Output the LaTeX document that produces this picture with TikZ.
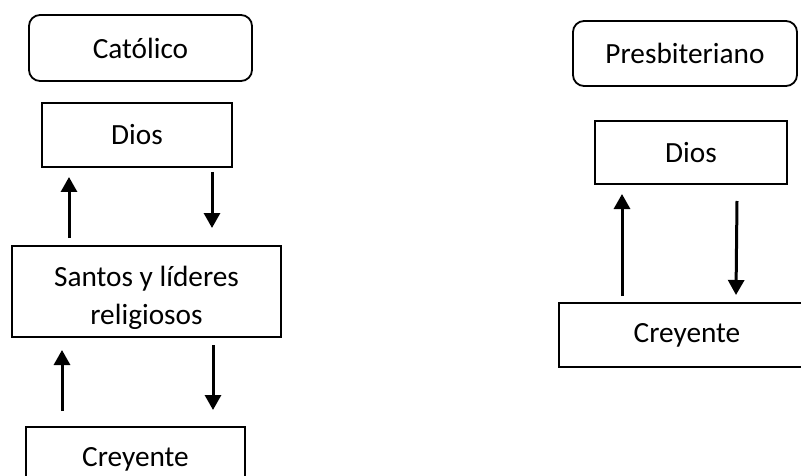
\documentclass[tikz,border=0pt]{standalone}
\usepackage{fontspec}
\setmainfont{Carlito}
\usetikzlibrary{arrows.meta}
\begin{document}
\begin{tikzpicture}[x=1pt,y=-1pt,
  boxshape/.style={draw=black,line width=1.8pt,inner sep=0pt,font=\fontsize{29.3}{38}\selectfont,align=center},
  roundbox/.style={boxshape,rounded corners=11pt},
  plaintext/.style={inner sep=0pt,font=\fontsize{29.3}{38}\selectfont,align=center},
  flowarrow/.style={line width=3pt,-{Triangle[length=15pt,width=16pt]}}
]
\useasboundingbox (0,0) rectangle (801,476);
\fill[white] (0,0) rectangle (801,476);
\clip (0,0) rectangle (801,476);
% Catolico
\node[roundbox,minimum width=223pt,minimum height=66pt] (cat) at (140.5,48) {Católico};
\node[boxshape,minimum width=190pt,minimum height=64pt] (diosL) at (137,135) {Dios};
\node[boxshape,minimum width=269pt,minimum height=91pt] (santos) at (146.5,291.5) {};
\node[plaintext] (santosT) at (146.5,298) {Santos y líderes\\religiosos};
\node[boxshape,minimum width=219pt,minimum height=64pt] (creyL) at (135.5,459) {Creyente};
\coordinate (a1s) at (69,238); \coordinate (a1e) at (69,177);
\coordinate (a2s) at (212,172); \coordinate (a2e) at (212,228);
\coordinate (a3s) at (62,411); \coordinate (a3e) at (62,350);
\coordinate (a4s) at (213,345); \coordinate (a4e) at (213,410);
\draw[flowarrow] (a1s) -- (a1e);
\draw[flowarrow] (a2s) -- (a2e);
\draw[flowarrow] (a3s) -- (a3e);
\draw[flowarrow] (a4s) -- (a4e);
% Presbiteriano
\node[roundbox,minimum width=224pt,minimum height=65pt] (pres) at (685,53.5) {Presbiteriano};
\node[boxshape,minimum width=192pt,minimum height=63pt] (diosR) at (691,152.5) {Dios};
\node[boxshape,minimum width=256pt,minimum height=64pt] (creyR) at (687,335) {Creyente};
\coordinate (b1s) at (622,296); \coordinate (b1e) at (622,194);
\coordinate (b2s) at (737,201); \coordinate (b2e) at (736,295);
\draw[flowarrow] (b1s) -- (b1e);
\draw[flowarrow] (b2s) -- (b2e);
\end{tikzpicture}
\end{document}
